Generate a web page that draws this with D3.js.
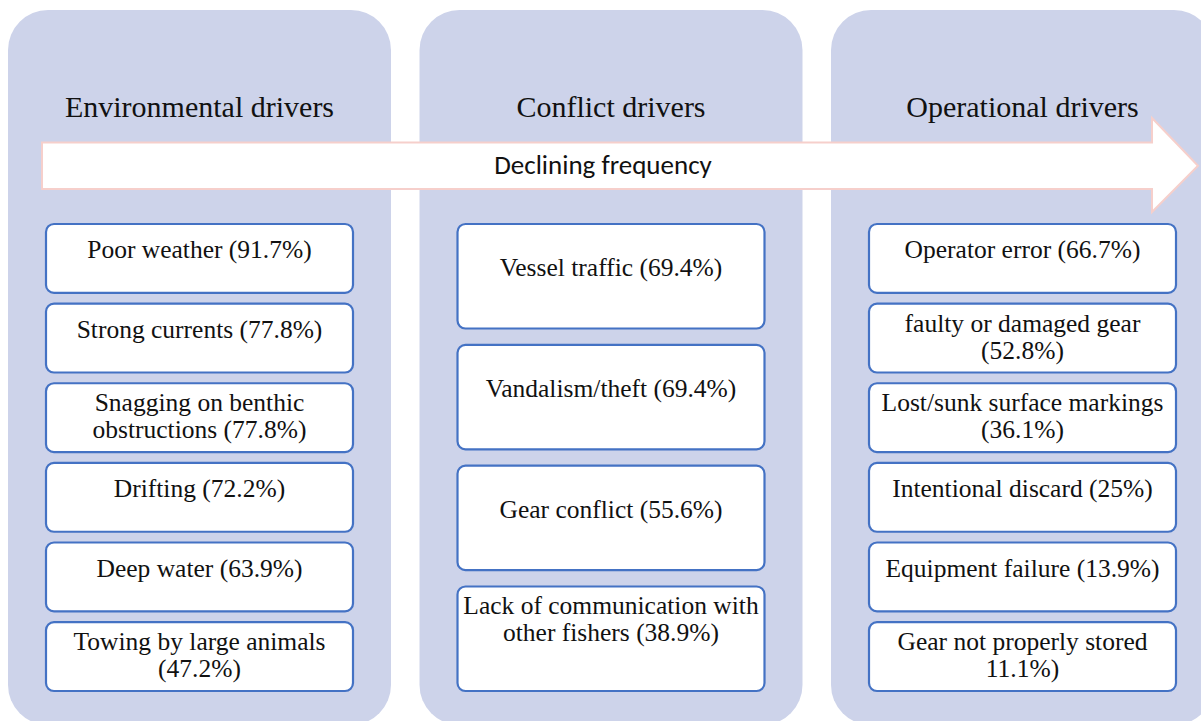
<!DOCTYPE html>
<html>
<head>
<meta charset="utf-8">
<script src="https://cdn.jsdelivr.net/npm/d3@7"></script>
<style>
  html, body { margin: 0; padding: 0; background: #fff; overflow: hidden; }
</style>
</head>
<body>
<svg id="chart" width="1201" height="721"></svg>
<script>
const svg = d3.select("#chart"),
      width = +svg.attr("width"),
      height = +svg.attr("height");

// column titles
const groups = ["Environmental drivers", "Conflict drivers", "Operational drivers"];

// driver labels (one array per column, lines as they wrap in the figure)
const environmental = [
  ["Poor weather (91.7%)"],
  ["Strong currents (77.8%)"],
  ["Snagging on benthic", "obstructions (77.8%)"],
  ["Drifting (72.2%)"],
  ["Deep water (63.9%)"],
  ["Towing by large animals", "(47.2%)"]
];
const conflict = [
  ["Vessel traffic (69.4%)"],
  ["Vandalism/theft (69.4%)"],
  ["Gear conflict (55.6%)"],
  ["Lack of communication with", "other fishers (38.9%)"]
];
const operational = [
  ["Operator error (66.7%)"],
  ["faulty or damaged gear", "(52.8%)"],
  ["Lost/sunk surface markings", "(36.1%)"],
  ["Intentional discard (25%)"],
  ["Equipment failure (13.9%)"],
  ["Gear not properly stored", "11.1%)"]
];
const arrowLabel = "Declining frequency";

const columns = [environmental, conflict, operational];

const serif = "'Liberation Serif', 'Times New Roman', serif";
const sans = "Carlito, Calibri, 'Liberation Sans', sans-serif";

const xCenter = d3.scalePoint().domain(groups).range([199.5, 1022.5]);
const colW = 383, boxW = 307;

// column backgrounds
svg.selectAll("rect.col")
   .data(groups)
   .join("rect")
   .attr("class", "col")
   .attr("x", d => xCenter(d) - colW / 2)
   .attr("y", 10)
   .attr("width", colW)
   .attr("height", 715)
   .attr("rx", 40)
   .style("fill", "#CDD3EA");

// titles
svg.selectAll("text.title")
   .data(groups)
   .join("text")
   .attr("class", "title")
   .attr("x", d => xCenter(d))
   .attr("y", 117)
   .attr("text-anchor", "middle")
   .style("font-family", serif)
   .style("font-size", "30px")
   .style("fill", "#111")
   .text(d => d);

// arrow
const ax0 = 42, ax1 = 1152, axTip = 1198, ay0 = 142.5, ay1 = 189, hy0 = 118, hy1 = 212;
const ayMid = (ay0 + ay1) / 2;
svg.append("path")
   .attr("d", d3.line()([[ax0, ay0], [ax1, ay0], [ax1, hy0], [axTip, ayMid],
                         [ax1, hy1], [ax1, ay1], [ax0, ay1]]) + "Z")
   .style("fill", "#fff")
   .style("stroke", "#F6CFCB")
   .style("stroke-width", 2);

svg.append("text")
   .attr("x", 603)
   .attr("y", ayMid - 1)
   .attr("dy", "0.35em")
   .attr("text-anchor", "middle")
   .style("font-family", sans)
   .style("font-size", "27px")
   .style("fill", "#111")
   .text(arrowLabel);

// boxes
columns.forEach((items, ci) => {
  const cx = xCenter(groups[ci]);
  const y = d3.scaleBand()
              .domain(d3.range(items.length))
              .range([224, 691])
              .paddingInner(0.135);
  const g = svg.append("g");
  const cell = g.selectAll("g")
                .data(items)
                .join("g")
                .attr("transform", (d, i) => `translate(${cx - boxW / 2},${y(i)})`);
  cell.append("rect")
      .attr("width", boxW)
      .attr("height", y.bandwidth())
      .attr("rx", 8)
      .style("fill", "#fff")
      .style("stroke", "#4472C4")
      .style("stroke-width", 2.2);
  cell.append("text")
      .attr("text-anchor", "middle")
      .style("font-family", serif)
      .style("font-size", "25.5px")
      .style("fill", "#111")
      .each(function(lines) {
        const t = d3.select(this);
        const y0 = lines.length > 1 ? 19 : y.bandwidth() / 2 - 9;
        lines.forEach((ln, k) => {
          t.append("tspan")
           .attr("x", boxW / 2)
           .attr("y", y0 + k * 27)
           .attr("dy", "0.35em")
           .text(ln);
        });
      });
});
</script>
</body>
</html>
